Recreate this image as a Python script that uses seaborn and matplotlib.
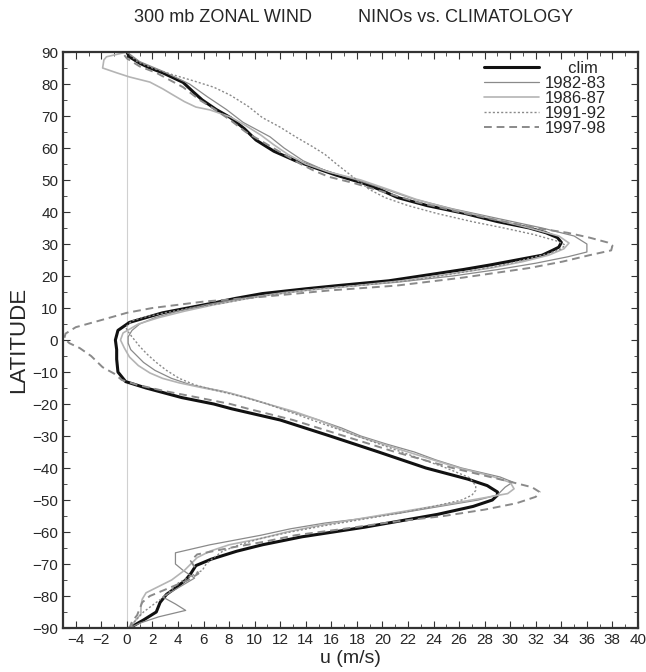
import numpy as np
import pandas as pd
import matplotlib
matplotlib.use("Agg")
import matplotlib.pyplot as plt
import seaborn as sns
from matplotlib.ticker import MultipleLocator

# 300 mb zonal-mean zonal wind profiles (u in m/s vs latitude)
clim_lat = [90, 88.5, 86.5, 85, 83.5, 80.5, 77.5, 75, 72, 69.5, 66, 62.5, 59, 56, 53, 51.5, 49, 47, 44.5, 42,
            39.5, 37, 35, 33.5, 32, 30.5, 29, 28, 26.5, 25, 23.5, 22, 20, 18.5, 17, 16, 14.5, 13, 11.5, 8.5,
            5.5, 3, 0, -3, -6, -10, -13, -15, -18, -20, -21.5, -25, -30, -35, -40, -43.5, -45.5, -47.5, -48.5, -50,
            -52, -54.5, -58.5, -61.5, -64, -66, -68.5, -70.5, -73, -75, -77.5, -79.5, -82, -85, -87.5, -90]
clim_u = [0.0, 0.2, 1.0, 1.8, 2.8, 4.4, 5.2, 5.9, 7.0, 8.1, 9.2, 10.1, 11.5, 13.2, 15.3, 16.4, 18.5, 19.8, 21.2, 23.5,
          26.5, 29.0, 31.5, 32.8, 33.7, 34.0, 33.8, 33.3, 32.5, 30.5, 28.5, 26.3, 23.0, 20.5, 16.5, 14.0, 10.6, 8.5, 6.7, 2.8,
          0.2, -0.7, -0.9, -0.8, -0.8, -0.7, -0.1, 1.5, 4.3, 6.8, 8.2, 12.0, 15.9, 19.7, 23.4, 26.7, 28.2, 29.0, 29.0, 28.6,
          27.1, 24.3, 18.6, 13.7, 10.6, 8.6, 6.6, 5.4, 5.0, 4.6, 3.8, 3.1, 2.6, 2.3, 1.3, 0.2]

n8283_lat = [90, 87, 84, 80, 76, 72, 68, 63.5, 60, 56, 53, 50, 47, 44, 41, 38, 35, 32.5, 30, 27.5,
             26, 24, 22, 20, 18, 16.5, 15, 13, 11, 9, 7, 5, 3, 1, -1, -3, -5, -7, -9.5, -12,
             -14, -16, -18, -20, -22.5, -25, -27.5, -30, -32.5, -35, -37.5, -40, -42.8, -44.4, -46, -48.4, -50, -52, -54, -56,
             -57.2, -59, -61, -64, -66.5, -70, -72, -74.4, -77, -80.3, -82.5, -84.5, -86.5, -88.5, -90]
n8283_u = [0.0, 1.0, 2.8, 4.9, 6.3, 7.8, 9.1, 11.2, 12.3, 13.8, 15.5, 18.0, 20.3, 22.5, 25.5, 29.0, 32.5, 35.0, 36.0, 36.0,
           34.5, 32.0, 29.0, 25.5, 21.0, 16.5, 12.5, 9.0, 6.2, 4.0, 2.2, 1.0, 0.4, 0.1, 0.1, 0.3, 0.8, 1.3, 2.2, 3.5,
           5.0, 7.5, 9.3, 11.0, 13.0, 15.0, 16.8, 18.3, 20.3, 22.5, 24.2, 26.2, 29.2, 30.2, 29.6, 29.0, 27.5, 24.5, 21.5, 18.0,
           15.5, 12.8, 10.5, 6.5, 3.8, 3.8, 4.4, 5.3, 4.2, 2.8, 3.8, 4.6, 2.5, 1.0, 0.2]

n8687_lat = [90, 88.5, 87.5, 85, 83.5, 82.2, 80.6, 78.5, 76.6, 74.5, 72.8, 71.9, 69.7, 67, 64, 61, 58, 55, 52.5, 50,
             47, 44, 41, 38, 35, 32.5, 30.3, 28.5, 26.5, 24.5, 22.5, 20.5, 18.5, 17, 15.5, 14, 12.5, 11, 9, 7,
             5, 2.2, 0, -2.5, -5.3, -8, -10.3, -12, -13.4, -15, -16.6, -18.5, -20, -22.5, -25, -27.5, -30, -32.5, -35, -37.5,
             -40, -42.5, -44.5, -46.5, -48, -50, -52, -54, -56, -58, -60, -62, -64, -66, -68, -70, -72, -75, -77, -79,
             -81, -83, -85.6, -88, -90]
n8687_u = [0.0, -1.6, -1.8, -1.9, -0.8, 0.2, 1.8, 2.8, 3.6, 4.5, 5.4, 6.5, 8.1, 9.3, 10.5, 11.5, 12.6, 14.0, 15.8, 18.3,
           20.5, 22.6, 25.3, 28.5, 31.5, 33.8, 34.6, 34.2, 33.0, 31.0, 28.5, 25.0, 21.5, 18.0, 14.0, 11.0, 8.8, 6.8, 4.5, 2.5,
           0.9, -0.3, -0.5, -0.2, 0.2, 0.9, 1.8, 2.8, 4.1, 6.0, 8.1, 9.8, 11.0, 13.2, 15.0, 16.5, 18.0, 20.0, 22.0, 24.0,
           26.0, 28.5, 30.0, 30.3, 29.8, 27.0, 24.0, 21.0, 18.0, 15.0, 12.5, 10.5, 8.0, 6.5, 5.5, 5.0, 4.5, 3.5, 2.5, 1.5,
           1.2, 1.1, 1.1, 0.6, 0.2]

n9192_lat = [90, 87, 85, 83, 81, 79, 76.5, 73, 69.5, 66.5, 63.5, 60.5, 58, 55, 52.5, 50, 47, 44.5, 42, 39.5,
             37, 35, 33, 31, 29.7, 28.5, 27, 25, 23.5, 22, 20, 18.5, 17, 16, 14.5, 13, 11.5, 10, 8.5, 7,
             6, 4, 2, 0, -2, -4.5, -7, -9.5, -12, -14, -15.5, -18, -20, -25, -30, -35, -40, -43, -45.5, -47,
             -48.5, -50, -52, -54, -56, -58, -60, -62, -64, -66, -68, -70, -72, -74, -76, -78, -80, -82, -85, -88,
             -90]
n9192_u = [0.0, 0.8, 2.0, 3.5, 5.2, 6.8, 8.1, 9.5, 10.6, 12.0, 13.2, 14.5, 15.5, 16.4, 17.2, 18.0, 19.0, 20.2, 22.0, 24.3,
           27.0, 29.5, 31.8, 33.6, 34.3, 34.0, 33.0, 31.0, 29.5, 27.5, 24.5, 22.0, 18.0, 15.0, 12.0, 9.5, 7.5, 5.0, 3.0, 1.2,
           0.4, -0.1, 0.2, 0.6, 1.0, 1.6, 2.3, 3.1, 4.1, 5.3, 6.7, 9.3, 11.0, 14.5, 18.0, 21.5, 25.0, 26.8, 27.3, 27.3,
           27.0, 26.2, 24.0, 21.5, 18.5, 15.5, 12.8, 10.5, 8.8, 7.5, 6.8, 6.2, 5.9, 4.9, 4.0, 3.5, 3.0, 2.3, 1.3, 0.6,
           0.2]

n9798_lat = [89, 88, 85.5, 83.5, 79, 75, 72, 69, 65, 62, 58, 55, 53, 51, 49, 46, 43, 40, 37, 35,
             33.5, 32, 30.5, 29.5, 28, 26.5, 24.5, 22.5, 19.5, 17, 15.5, 13.5, 12, 10, 8.5, 6, 4, 2, 0.5, -1,
             -2.5, -5, -8.5, -10.5, -12.5, -14, -16, -18, -20, -21.5, -25, -30, -35, -40, -44.5, -46, -47.5, -49, -51, -53,
             -55, -57, -59, -61, -63, -65, -67, -69, -71, -73, -75, -78, -80, -82, -84, -86, -88, -90]
n9798_u = [-0.2, 0.0, 1.0, 2.3, 4.4, 5.7, 6.9, 8.0, 9.3, 10.6, 12.3, 13.6, 14.6, 15.8, 17.8, 20.3, 22.8, 26.0, 29.5, 32.0,
           34.5, 36.2, 37.6, 38.0, 37.9, 36.2, 34.1, 31.5, 26.3, 21.1, 15.9, 10.6, 6.0, 2.0, 0.0, -2.2, -4.0, -4.8, -4.9, -4.5,
           -3.7, -2.8, -1.9, -1.0, -0.4, 0.8, 3.0, 5.6, 8.1, 9.5, 13.0, 17.0, 21.0, 25.5, 30.2, 31.7, 32.3, 32.0, 30.5, 28.0,
           24.8, 20.5, 17.0, 13.2, 10.8, 8.0, 5.5, 5.0, 5.3, 5.6, 4.8, 3.0, 1.8, 1.2, 1.0, 0.8, 0.4, 0.2]

series = ["clim", "1982-83", "1986-87", "1991-92", "1997-98"]
lats = [clim_lat, n8283_lat, n8687_lat, n9192_lat, n9798_lat]
winds = [clim_u, n8283_u, n8687_u, n9192_u, n9798_u]

frames = []
for name, la, uu in zip(series, lats, winds):
    frames.append(pd.DataFrame({"u": uu, "lat": la, "case": name}))
df = pd.concat(frames, ignore_index=True)

sns.set_style("ticks")
plt.rcParams["font.family"] = ["Liberation Sans", "DejaVu Sans"]

fig = plt.figure(figsize=(6.46, 6.72), dpi=100)
ax = fig.add_axes([63 / 646, 44 / 672, 575 / 646, 576 / 672])

# zero line
ax.axvline(0, color="#d0d0d0", lw=0.8, zorder=0)

styles = {
    "clim":    dict(color="#111111", lw=2.2, ls="-"),
    "1982-83": dict(color="#8a8a8a", lw=0.9, ls="-"),
    "1986-87": dict(color="#b4b4b4", lw=1.2, ls="-"),
    "1991-92": dict(color="#8a8a8a", lw=1.0, ls=(0, (1.5, 1.5))),
    "1997-98": dict(color="#8a8a8a", lw=1.4, ls=(0, (4, 2.5))),
}
for name in series:
    st = styles[name]
    sns.lineplot(data=df[df["case"] == name], x="u", y="lat", sort=False, estimator=None,
                 color=st["color"], lw=st["lw"], linestyle=st["ls"], label=name, ax=ax)

ax.set_xlim(-5, 40)
ax.set_ylim(-90, 90)
ax.xaxis.set_major_locator(MultipleLocator(2))
ax.xaxis.set_minor_locator(MultipleLocator(1))
ax.yaxis.set_major_locator(MultipleLocator(10))
ax.yaxis.set_minor_locator(MultipleLocator(5))
ax.set_xticks(np.arange(-4, 41, 2))
ax.tick_params(which="both", direction="in", top=True, right=True, labelsize=11, color="#333333")
ax.tick_params(which="major", length=5, width=0.8)
ax.tick_params(which="minor", length=3, width=0.6)
for sp in ax.spines.values():
    sp.set_linewidth(1.6)
    sp.set_color("#333333")

ax.set_xlabel("u (m/s)", fontsize=14, labelpad=2)
ax.set_ylabel("LATITUDE", fontsize=16, labelpad=2)

fig.text(223 / 646, 1 - 18 / 672, "300 mb ZONAL WIND", ha="center", va="center", fontsize=13)
fig.text(466 / 646, 1 - 18 / 672, "NINOs vs. CLIMATOLOGY", ha="center", va="center", fontsize=13)

leg = ax.legend(loc="upper left", bbox_to_anchor=(0.732, 0.984), frameon=False, fontsize=12,
                handlelength=3.3, handletextpad=0.35, labelspacing=0.0, borderpad=0.0,
                borderaxespad=0.0)
leg.get_texts()[0].set_text("     clim")

fig.savefig("out.png", dpi=100)
